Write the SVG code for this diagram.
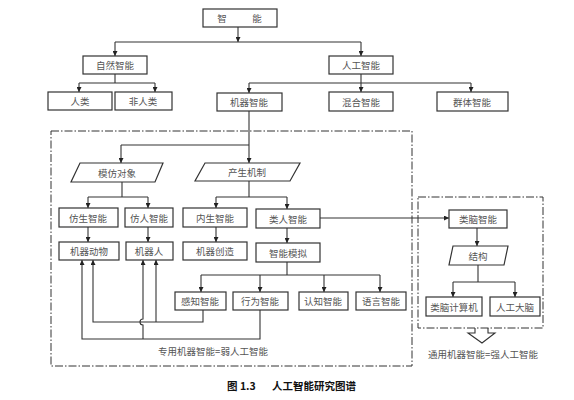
<svg xmlns="http://www.w3.org/2000/svg" width="574" height="400" viewBox="0 0 574 400">
<style>
.bx{fill:#fff;stroke:#333;stroke-width:1.2}
.t{font-family:"Noto Sans CJK SC","Noto Sans",sans-serif;font-size:9.5px;fill:#555;text-anchor:middle;dominant-baseline:central}
.c{fill:none;stroke:#333;stroke-width:1.1}
.dd{fill:none;stroke:#333;stroke-width:1;stroke-dasharray:8 2 1.5 2}
.cap{font-family:"Noto Sans CJK SC","Noto Sans",sans-serif;font-size:10.5px;font-weight:bold;fill:#111;dominant-baseline:central}
</style>
<defs>
<marker id="a" viewBox="0 0 6 6" refX="6" refY="3" markerWidth="5" markerHeight="5" markerUnits="userSpaceOnUse" orient="auto">
<path d="M0,0 L6,3 L0,6 z" fill="#222"/>
</marker>
</defs>
<rect width="574" height="400" fill="#fff"/>
<g id="regions">
<rect class="dd" x="51" y="131" width="361" height="235"/>
<rect class="dd" x="418" y="197" width="125" height="131"/>
</g>
<g id="connectors">
<path class="c" d="M238,27 V42" marker-end="url(#a)"/>
<path class="c" d="M115,42 H361"/>
<path class="c" d="M115,42 V56" marker-end="url(#a)"/>
<path class="c" d="M361,42 V56" marker-end="url(#a)"/>
<path class="c" d="M115,74 V83 M79,83 H155"/>
<path class="c" d="M79,83 V92" marker-end="url(#a)"/>
<path class="c" d="M155,83 V92" marker-end="url(#a)"/>
<path class="c" d="M361,74 V92" marker-end="url(#a)"/>
<path class="c" d="M249,83 H471"/>
<path class="c" d="M249,83 V93" marker-end="url(#a)"/>
<path class="c" d="M471,83 V92" marker-end="url(#a)"/>
<path class="c" d="M249,111 V163" marker-end="url(#a)"/>
<path class="c" d="M121,145 H249"/>
<path class="c" d="M121,145 V163" marker-end="url(#a)"/>
<path class="c" d="M122,182 V197 M88,197 H148"/>
<path class="c" d="M88,197 V208" marker-end="url(#a)"/>
<path class="c" d="M148,197 V208" marker-end="url(#a)"/>
<path class="c" d="M249,181 V197 M216,197 H287"/>
<path class="c" d="M216,197 V208" marker-end="url(#a)"/>
<path class="c" d="M287,197 V209" marker-end="url(#a)"/>
<path class="c" d="M88,227 V242" marker-end="url(#a)"/>
<path class="c" d="M148,227 V242" marker-end="url(#a)"/>
<path class="c" d="M216,227 V242" marker-end="url(#a)"/>
<path class="c" d="M287,228 V243" marker-end="url(#a)"/>
<path class="c" d="M320,218 H449" marker-end="url(#a)"/>
<path class="c" d="M477,228 V246" marker-end="url(#a)"/>
<path class="c" d="M478,264 V282 M453,282 H515"/>
<path class="c" d="M453,282 V297" marker-end="url(#a)"/>
<path class="c" d="M515,282 V297" marker-end="url(#a)"/>
<path class="c" d="M287,262 V275 M201,275 H380"/>
<path class="c" d="M201,275 V292" marker-end="url(#a)"/>
<path class="c" d="M260,275 V292" marker-end="url(#a)"/>
<path class="c" d="M324,275 V292" marker-end="url(#a)"/>
<path class="c" d="M380,275 V292" marker-end="url(#a)"/>
<path class="c" d="M203,310 V322 H93 V260" marker-end="url(#a)"/>
<path class="c" d="M156,322 V260" marker-end="url(#a)"/>
<path class="c" d="M260,310 V339 H82 V260" marker-end="url(#a)"/>
<path class="c" d="M143,339 V325 A3,3 0 0 1 143,319 V260" marker-end="url(#a)"/>
<path class="c" d="M475,328 V333 H468 L482,343 L495,333 H488 V328" fill="#fff"/>
</g>
<g id="n-zhineng"><rect class="bx" x="203" y="9" width="74" height="18"/><text class="t" x="222" y="18">智</text><text class="t" x="257" y="18">能</text></g>
<g id="n-ziran"><rect class="bx" x="83" y="56" width="64" height="18"/><text class="t" x="115" y="65">自然智能</text></g>
<g id="n-renlei"><rect class="bx" x="48" y="92" width="64" height="18"/><text class="t" x="80" y="101">人类</text></g>
<g id="n-feirenlei"><rect class="bx" x="115" y="92" width="57" height="18"/><text class="t" x="143" y="101">非人类</text></g>
<g id="n-rengong"><rect class="bx" x="329" y="56" width="64" height="18"/><text class="t" x="361" y="65">人工智能</text></g>
<g id="n-jiqi"><rect class="bx" x="217" y="93" width="65" height="18"/><text class="t" x="249" y="102">机器智能</text></g>
<g id="n-hunhe"><rect class="bx" x="329" y="92" width="64" height="19"/><text class="t" x="361" y="101.5">混合智能</text></g>
<g id="n-qunti"><rect class="bx" x="437" y="92" width="71" height="19"/><text class="t" x="472" y="101.5">群体智能</text></g>
<g id="n-mofang"><polygon class="bx" points="80,163 163,163 155,182 71,182"/><text class="t" x="117" y="172.5">模仿对象</text></g>
<g id="n-chansheng"><polygon class="bx" points="205,163 300,163 290,181 195,181"/><text class="t" x="247" y="172">产生机制</text></g>
<g id="n-fangsheng"><rect class="bx" x="59" y="208" width="59" height="19"/><text class="t" x="88" y="217.5">仿生智能</text></g>
<g id="n-fangren"><rect class="bx" x="125" y="208" width="48" height="19"/><text class="t" x="149" y="217.5">仿人智能</text></g>
<g id="n-neisheng"><rect class="bx" x="183" y="208" width="64" height="19"/><text class="t" x="215" y="217.5">内生智能</text></g>
<g id="n-leiren"><rect class="bx" x="256" y="209" width="64" height="19"/><text class="t" x="288" y="218.5">类人智能</text></g>
<g id="n-jiqidongwu"><rect class="bx" x="59" y="242" width="60" height="18"/><text class="t" x="89" y="251">机器动物</text></g>
<g id="n-jiqiren"><rect class="bx" x="126" y="242" width="47" height="18"/><text class="t" x="149" y="251">机器人</text></g>
<g id="n-jiqichuangzao"><rect class="bx" x="183" y="242" width="64" height="18"/><text class="t" x="215" y="251">机器创造</text></g>
<g id="n-moni"><rect class="bx" x="256" y="243" width="64" height="19"/><text class="t" x="288" y="252.5">智能模拟</text></g>
<g id="n-ganzhi"><rect class="bx" x="175" y="292" width="51" height="18"/><text class="t" x="200" y="301">感知智能</text></g>
<g id="n-xingwei"><rect class="bx" x="233" y="292" width="55" height="18"/><text class="t" x="260" y="301">行为智能</text></g>
<g id="n-renzhi"><rect class="bx" x="299" y="292" width="49" height="18"/><text class="t" x="323" y="301">认知智能</text></g>
<g id="n-yuyan"><rect class="bx" x="356" y="292" width="50" height="18"/><text class="t" x="381" y="301">语言智能</text></g>
<g id="n-leinao"><rect class="bx" x="449" y="210" width="58" height="18"/><text class="t" x="478" y="219">类脑智能</text></g>
<g id="n-jiegou"><polygon class="bx" points="453,246 508,246 504,265 449,265"/><text class="t" x="478" y="255.5">结构</text></g>
<g id="n-leinaojisuanji"><rect class="bx" x="426" y="297" width="56" height="19"/><text class="t" x="454" y="306.5">类脑计算机</text></g>
<g id="n-rengongdanao"><rect class="bx" x="490" y="297" width="50" height="19"/><text class="t" x="515" y="306.5">人工大脑</text></g>
<g id="labels">
<text class="t" x="213" y="351">专用机器智能=弱人工智能</text>
<text class="t" x="483" y="354">通用机器智能=强人工智能</text>
<text class="cap" x="227" y="385">图 1.3</text>
<text class="cap" x="272" y="385">人工智能研究图谱</text>
</g>
</svg>
